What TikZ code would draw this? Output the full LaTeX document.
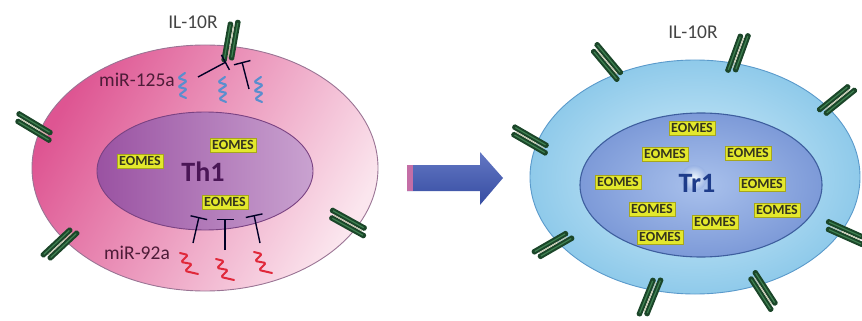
\documentclass[tikz,border=0pt]{standalone}
\usepackage{fontspec}
\setmainfont{Carlito}
\usetikzlibrary{arrows.meta,shapes.geometric,positioning}

\definecolor{pinkdeep}{HTML}{DE5592}
\definecolor{pinklight}{HTML}{FBE6EE}
\definecolor{pinkrim}{HTML}{9A7494}
\definecolor{nucleft}{HTML}{9A52A2}
\definecolor{nucright}{HTML}{C9A2D0}
\definecolor{nucrim}{HTML}{7A4282}
\definecolor{thtext}{HTML}{4A1656}
\definecolor{skyin}{HTML}{D2EDFA}
\definecolor{skyout}{HTML}{8FCAEA}
\definecolor{skyrim}{HTML}{5A9ACB}
\definecolor{nucblin}{HTML}{A9C1EC}
\definecolor{nucblout}{HTML}{7D9AD8}
\definecolor{nucblrim}{HTML}{3E5E9E}
\definecolor{trtext}{HTML}{1E3C8A}
\definecolor{eomesfill}{HTML}{E3E82C}
\definecolor{eomesrim}{HTML}{A6A61E}
\definecolor{eomestext}{HTML}{35351E}
\definecolor{recgreen}{HTML}{1B4629}
\definecolor{recshine}{HTML}{3E8050}
\definecolor{recstripe}{HTML}{BFC2A6}
\definecolor{mirblue}{HTML}{5A8ECE}
\definecolor{mirred}{HTML}{E0283A}
\definecolor{mirtext}{HTML}{4E1C38}
\definecolor{iltext}{HTML}{444444}
\definecolor{blockblue}{HTML}{3C55B4}
\definecolor{blockpink}{HTML}{C46EA6}

\tikzset{
  cell/.style={ellipse, inner sep=0pt, line width=0.9pt},
  eomes/.style={draw=eomesrim, fill=eomesfill, line width=0.7pt, inner sep=2.3pt,
    text=eomestext, font=\fontsize{14}{14}\selectfont\bfseries},
  celltag/.style={font=\fontsize{28}{28}\selectfont\bfseries},
  mirlabel/.style={text=mirtext, font=\fontsize{19.5}{19.5}\selectfont},
  iltag/.style={text=iltext, font=\fontsize{19.5}{19.5}\selectfont},
  inhib/.style={draw=black!85!blue, line width=1.4pt,
    -{Bar[width=17pt,line width=1.4pt]}},
  receptor/.pic={
    \fill[recgreen, rounded corners=1.5pt] (-22,-6.2) rectangle (19,-0.8);
    \fill[recgreen, rounded corners=1.5pt] (-19,0.8) rectangle (22,6.2);
    \draw[recshine, line width=1.2pt] (-19,-3.5) -- (16,-3.5);
    \draw[recshine, line width=1.2pt] (-16,3.5) -- (19,3.5);
    \draw[recstripe, line width=0.9pt] (-16,0) -- (16,0);
  },
  bluemir/.pic={
    \draw[mirblue, line width=2.1pt, line join=round, line cap=round, rounded corners=1.5pt]
      (2,-13) -- (-5,-8) -- (4,-5) -- (-5,1) -- (4,3) -- (-4,9) -- (3,12);
  },
  redmir/.pic={
    \draw[mirred, line width=2pt, line join=round, line cap=round, rounded corners=1.5pt]
      (-10,-11) -- (-2,-9) -- (-9,-2) -- (2,0) -- (-5,7) -- (8,10);
  },
}

\begin{document}
\begin{tikzpicture}[x=1pt, y=-1pt]
  \useasboundingbox (0,0) rectangle (862,321);

  % Th1 cell
  \node[cell, draw=pinkrim, left color=pinkdeep, right color=pinklight, shading angle=60,
    minimum width=346, minimum height=246] (th1) at (205,168) {};
  \node[cell, draw=nucrim, left color=nucleft, right color=nucright,
    minimum width=216, minimum height=118] (th1nuc) at (205,171) {};
  \node[celltag, text=thtext] (th1tag) at (203,172) {Th1};

  \node[eomes] (e1) at (140,161) {EOMES};
  \node[eomes] (e2) at (233,145) {EOMES};
  \node[eomes] (e3) at (225,202) {EOMES};

  % receptors on the Th1 membrane
  \pic[rotate=80] at (231,41) {receptor};
  \pic[rotate=-31] at (34,127) {receptor};
  \pic[rotate=43] at (60,244) {receptor};
  \pic[rotate=-29] at (348,223) {receptor};

  \node[iltag] (il1) at (193,22) {IL-10R};

  % miR-125a against the receptor
  \node[mirlabel] (mir125) at (137,80) {miR-125a};
  \pic at (183,86) {bluemir};
  \pic at (223,90) {bluemir};
  \pic at (259,90) {bluemir};
  \coordinate (a1) at (198,77);
  \coordinate (a2) at (249,89);
  \coordinate (t1) at (226,62);
  \coordinate (t2) at (242,62);
  \draw[inhib] (a1) -- (t1);
  \draw[inhib] (a2) -- (t2);

  % miR-92a against EOMES
  \node[mirlabel] (mir92) at (137,253) {miR-92a};
  \pic at (190,264) {redmir};
  \pic at (226,270) {redmir};
  \pic at (264,263) {redmir};
  \coordinate (b1) at (193,243);
  \coordinate (b2) at (225,250);
  \coordinate (b3) at (260,243);
  \coordinate (u1) at (199,217);
  \coordinate (u2) at (225,219);
  \coordinate (u3) at (254,215);
  \draw[inhib] (b1) -- (u1);
  \draw[inhib] (b2) -- (u2);
  \draw[inhib] (b3) -- (u3);

  % block arrow
  \shade[top color=blockblue!80!white, bottom color=blockblue!90!black]
    (407,165) -- (480,165) -- (480,152) -- (503,178) -- (480,205) -- (480,191)
    -- (407,191) -- cycle;
  \fill[blockpink] (407,165) rectangle (413,191);

  % Tr1 cell
  \node[cell, draw=skyrim, shading=radial, inner color=skyin, outer color=skyout,
    minimum width=330, minimum height=234] (tr1) at (695,177) {};
  \node[cell, draw=nucblrim, line width=1.1pt, shading=radial, inner color=nucblin,
    outer color=nucblout, minimum width=242, minimum height=144] (tr1nuc) at (701,185) {};
  \shade[inner color=white!70!skyin, outer color=nucblin!60!nucblout]
    (694,178) circle (13);
  \node[celltag, text=trtext] (tr1tag) at (697,183) {Tr1};

  \node[eomes] (f1) at (692,128) {EOMES};
  \node[eomes] (f2) at (665,154) {EOMES};
  \node[eomes] (f3) at (748,153) {EOMES};
  \node[eomes] (f4) at (618,182) {EOMES};
  \node[eomes] (f5) at (762,184) {EOMES};
  \node[eomes] (f6) at (652,209) {EOMES};
  \node[eomes] (f7) at (777,210) {EOMES};
  \node[eomes] (f8) at (715,222) {EOMES};
  \node[eomes] (f9) at (660,237) {EOMES};

  % receptors on the Tr1 membrane
  \pic[rotate=-50] at (607,62) {receptor};
  \pic[rotate=70] at (738,53) {receptor};
  \pic[rotate=39] at (837,100) {receptor};
  \pic[rotate=-30] at (530,140) {receptor};
  \pic[rotate=-24] at (845,233) {receptor};
  \pic[rotate=30] at (553,245) {receptor};
  \pic[rotate=68] at (650,297) {receptor};
  \pic[rotate=-57] at (763,291) {receptor};

  \node[iltag] (il2) at (693,32) {IL-10R};
\end{tikzpicture}
\end{document}
